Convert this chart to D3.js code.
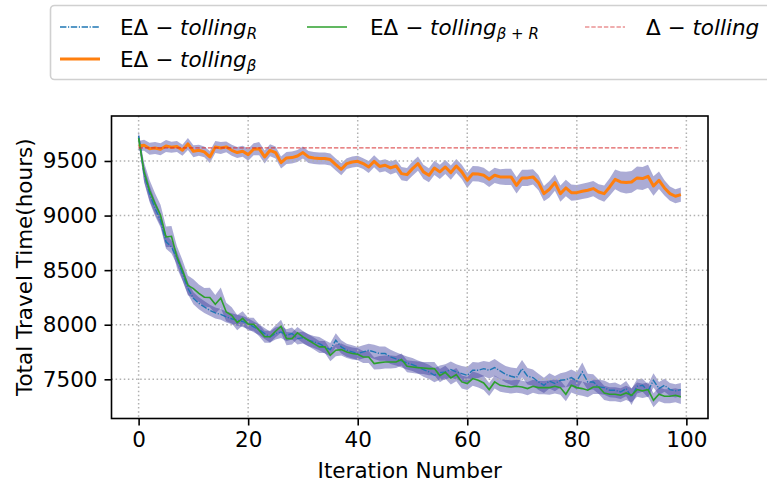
<!DOCTYPE html>
<html>
<head>
<meta charset="utf-8">
<script src="https://cdn.jsdelivr.net/npm/d3@7"></script>
<style>
  html, body { margin: 0; padding: 0; background: #fff; }
  svg { display: block; font-family: "DejaVu Sans", sans-serif; }
</style>
</head>
<body>
<svg id="chart" width="767" height="487"></svg>
<script>
// Total travel time per iteration for three tolling schemes (mean with spread band)
const iterations = d3.range(0, 100);

const tollingR = [
  9730, 9380, 9200, 9067, 8957, 8760, 8712, 8609, 8470, 8334,
  8242, 8196, 8163, 8132, 8108, 8095, 8071, 8055, 8041, 8030,
  8010, 7980, 7955, 7919, 7888, 7919, 7934, 7903, 7919, 7873,
  7882, 7858, 7842, 7827, 7797, 7772, 7858, 7797, 7766, 7751,
  7736, 7751, 7766, 7751, 7736, 7736, 7705, 7687, 7668, 7650,
  7635, 7613, 7589, 7568, 7537, 7561, 7568, 7589, 7568, 7552,
  7537, 7583, 7583, 7598, 7583, 7607, 7577, 7546, 7528, 7516,
  7598, 7528, 7516, 7476, 7445, 7485, 7461, 7491, 7497, 7516,
  7485, 7568, 7476, 7476, 7430, 7424, 7400, 7400, 7384, 7415,
  7339, 7436, 7445, 7394, 7491, 7415, 7445, 7406, 7394, 7406
];
const tollingRSpread = [
  50, 75, 75, 70, 65, 65, 60, 60, 60, 55,
  55, 55, 55, 50, 50, 50, 50, 50, 50, 50,
  50, 50, 50, 50, 50, 55, 55, 55, 55, 55,
  55, 55, 55, 60, 60, 60, 65, 60, 60, 60,
  60, 60, 60, 65, 65, 65, 65, 60, 60, 60,
  60, 60, 65, 65, 65, 65, 70, 75, 70, 70,
  75, 75, 70, 70, 75, 80, 75, 75, 80, 85,
  80, 75, 75, 75, 70, 70, 70, 65, 70, 75,
  80, 85, 75, 70, 65, 65, 65, 70, 65, 70,
  75, 65, 60, 60, 65, 60, 60, 60, 60, 60
];

const tollingBeta = [
  9638, 9644, 9613, 9619, 9607, 9638, 9626, 9632, 9598, 9656,
  9589, 9598, 9583, 9537, 9629, 9619, 9629, 9598, 9577, 9589,
  9558, 9607, 9613, 9537, 9598, 9577, 9485, 9528, 9531, 9546,
  9577, 9537, 9528, 9522, 9522, 9513, 9467, 9424, 9476, 9491,
  9497, 9476, 9445, 9497, 9450, 9461, 9436, 9454, 9384, 9375,
  9430, 9476, 9400, 9369, 9436, 9400, 9445, 9393, 9454, 9400,
  9323, 9384, 9381, 9369, 9332, 9369, 9354, 9354, 9354, 9277,
  9345, 9345, 9354, 9302, 9201, 9241, 9302, 9201, 9253, 9210,
  9210, 9222, 9232, 9247, 9216, 9201, 9262, 9332, 9308, 9302,
  9308, 9345, 9339, 9360, 9271, 9323, 9253, 9201, 9177, 9192
];
const tollingBetaSpread = [
  45, 50, 55, 55, 55, 55, 50, 50, 50, 55,
  55, 50, 50, 55, 55, 55, 50, 50, 50, 50,
  55, 55, 60, 60, 55, 55, 55, 55, 55, 55,
  55, 55, 55, 55, 55, 55, 55, 55, 50, 50,
  50, 50, 55, 55, 55, 55, 60, 60, 60, 60,
  65, 65, 65, 65, 65, 65, 65, 65, 65, 65,
  70, 70, 70, 70, 70, 70, 70, 75, 75, 75,
  75, 75, 70, 70, 70, 75, 75, 75, 75, 75,
  70, 70, 70, 70, 70, 75, 80, 90, 95, 100,
  100, 105, 105, 105, 90, 80, 70, 65, 65, 65
];

const tollingBetaR = [
  9710, 9400, 9230, 9110, 9003, 8804, 8810, 8620, 8499, 8361,
  8331, 8288, 8252, 8249, 8187, 8245, 8117, 8086, 8020, 8058,
  8004, 8004, 7949, 7890, 7890, 7940, 7986, 7873, 7873, 7925,
  7888, 7858, 7827, 7797, 7797, 7720, 7766, 7772, 7751, 7736,
  7729, 7705, 7705, 7644, 7653, 7659, 7659, 7659, 7681, 7619,
  7613, 7607, 7604, 7598, 7598, 7534, 7564, 7513, 7543, 7476,
  7461, 7507, 7491, 7467, 7406, 7476, 7445, 7436, 7430, 7436,
  7430, 7415, 7436, 7424, 7424, 7424, 7436, 7424, 7363, 7445,
  7424, 7415, 7400, 7430, 7430, 7375, 7363, 7363, 7354, 7375,
  7354, 7406, 7394, 7406, 7308, 7363, 7345, 7345, 7354, 7339
];
const tollingBetaRSpread = [
  50, 85, 95, 95, 95, 95, 95, 100, 95, 90,
  85, 80, 85, 90, 85, 95, 85, 75, 70, 65,
  60, 60, 55, 55, 55, 55, 60, 60, 55, 55,
  55, 55, 55, 55, 55, 55, 55, 55, 55, 55,
  55, 55, 55, 55, 60, 60, 60, 55, 55, 55,
  55, 55, 55, 60, 60, 60, 60, 60, 60, 60,
  60, 65, 65, 65, 60, 60, 60, 60, 60, 60,
  60, 60, 60, 60, 60, 65, 65, 65, 65, 65,
  65, 65, 65, 65, 65, 65, 65, 65, 65, 65,
  65, 65, 65, 65, 65, 65, 65, 65, 65, 65
];

// Untolled-learning baseline, constant over all iterations
const deltaTolling = 9620;

const xTicks = [0, 20, 40, 60, 80, 100];
const yTicks = [7500, 8000, 8500, 9000, 9500];
const xLabel = "Iteration Number";
const yLabel = "Total Travel Time(hours)";

// ---- layout ----
const FS = 21.5;
const plot = { left: 111.5, right: 708, top: 116, bottom: 418.5 };
const svg = d3.select("#chart");

const x = d3.scaleLinear().domain([-4.95, 103.95]).range([plot.left, plot.right]);
const y = d3.scaleLinear().domain([7141, 9912]).range([plot.bottom, plot.top]);

const bandFill = "rgb(55,55,155)";
const bandOpacity = 0.42;

const area = (vals, spread) => d3.area()
  .x(i => x(i))
  .y0(i => y(vals[i] - spread[i]))
  .y1(i => y(vals[i] + spread[i]))(iterations);
const line = vals => d3.line().x(i => x(i)).y(i => y(vals[i]))(iterations);

svg.append("defs").append("clipPath").attr("id", "plotClip")
  .append("rect")
  .attr("x", plot.left).attr("y", plot.top)
  .attr("width", plot.right - plot.left).attr("height", plot.bottom - plot.top);

const body = svg.append("g").attr("clip-path", "url(#plotClip)");

// spread bands
[[tollingR, tollingRSpread], [tollingBeta, tollingBetaSpread], [tollingBetaR, tollingBetaRSpread]]
  .forEach(([v, s]) => {
    body.append("path").attr("d", area(v, s))
      .attr("fill", bandFill).attr("fill-opacity", bandOpacity).attr("stroke", "none");
  });

// grid
const grid = body.append("g");
xTicks.forEach(t => grid.append("line")
  .attr("x1", x(t)).attr("x2", x(t)).attr("y1", plot.top).attr("y2", plot.bottom)
  .attr("stroke", "#b0b0b0").attr("stroke-width", 1.5).attr("stroke-dasharray", "1.5,2.6"));
yTicks.forEach(t => grid.append("line")
  .attr("x1", plot.left).attr("x2", plot.right).attr("y1", y(t)).attr("y2", y(t))
  .attr("stroke", "#b0b0b0").attr("stroke-width", 1.5).attr("stroke-dasharray", "1.5,2.6"));

// mean lines
body.append("path").attr("d", line(tollingR)).attr("fill", "none")
  .attr("stroke", "#1f77b4").attr("stroke-width", 1.4).attr("stroke-dasharray", "6.4,1.6,1.2,1.6");
body.append("path").attr("d", line(tollingBeta)).attr("fill", "none")
  .attr("stroke", "#ff7f0e").attr("stroke-width", 3).attr("stroke-linejoin", "round");
body.append("path").attr("d", line(tollingBetaR)).attr("fill", "none")
  .attr("stroke", "#2ca02c").attr("stroke-width", 1.6);
body.append("line")
  .attr("x1", x(0)).attr("x2", x(99)).attr("y1", y(deltaTolling)).attr("y2", y(deltaTolling))
  .attr("stroke", "#d62728").attr("stroke-opacity", 0.75).attr("stroke-width", 1.2)
  .attr("stroke-dasharray", "4.4,1.9");

// axes
const xAxis = svg.append("g").attr("transform", `translate(0,${plot.bottom})`)
  .call(d3.axisBottom(x).tickValues(xTicks).tickSize(7).tickPadding(6).tickFormat(d3.format("d")));
const yAxis = svg.append("g").attr("transform", `translate(${plot.left},0)`)
  .call(d3.axisLeft(y).tickValues(yTicks).tickSize(7).tickPadding(7).tickFormat(d3.format("d")));
[xAxis, yAxis].forEach(a => {
  a.select(".domain").remove();
  a.selectAll(".tick line").attr("stroke", "#000").attr("stroke-width", 1.6);
  a.selectAll(".tick text").attr("fill", "#000").style("font-size", FS + "px")
    .style("font-family", "DejaVu Sans, sans-serif");
});

// frame
svg.append("rect")
  .attr("x", plot.left).attr("y", plot.top)
  .attr("width", plot.right - plot.left).attr("height", plot.bottom - plot.top)
  .attr("fill", "none").attr("stroke", "#000").attr("stroke-width", 1.6);

// axis titles
svg.append("text").attr("x", (plot.left + plot.right) / 2).attr("y", 478)
  .attr("text-anchor", "middle").style("font-size", FS + "px").text(xLabel);
svg.append("text")
  .attr("transform", `translate(32,${(plot.top + plot.bottom) / 2}) rotate(-90)`)
  .attr("text-anchor", "middle").style("font-size", FS + "px").text(yLabel);

// legend
const legend = svg.append("g");
legend.append("rect")
  .attr("x", 50.5).attr("y", 5.5).attr("width", 760).attr("height", 74).attr("rx", 4)
  .attr("fill", "#fff").attr("fill-opacity", 0.8).attr("stroke", "#d0d0d0").attr("stroke-width", 1.6);

const legendItems = [
  { hx: 60, ty: 35, tx: 120, stroke: "#1f77b4", width: 1.4, dash: "6.4,1.6,1.2,1.6", opacity: 1,
    lead: "EΔ − ", ital: "tolling", sub: [["R", true]] },
  { hx: 60, ty: 67, tx: 120, stroke: "#ff7f0e", width: 3, dash: null, opacity: 1,
    lead: "EΔ − ", ital: "tolling", sub: [["β", true]] },
  { hx: 307, ty: 35, tx: 370, stroke: "#2ca02c", width: 1.6, dash: null, opacity: 1,
    lead: "EΔ − ", ital: "tolling", sub: [["β", true], [" + ", false], ["R", true]] },
  { hx: 585, ty: 35, tx: 646, stroke: "#d62728", width: 1.2, dash: "4.4,1.9", opacity: 0.75,
    lead: "Δ − ", ital: "tolling", sub: [] }
];
legendItems.forEach(it => {
  legend.append("line")
    .attr("x1", it.hx).attr("x2", it.hx + 40).attr("y1", it.ty - 8).attr("y2", it.ty - 8)
    .attr("stroke", it.stroke).attr("stroke-width", it.width).attr("stroke-opacity", it.opacity)
    .attr("stroke-dasharray", it.dash);
  const t = legend.append("text").attr("x", it.tx).attr("y", it.ty).style("font-size", FS + "px");
  t.append("tspan").text(it.lead);
  t.append("tspan").style("font-style", "italic").text(it.ital);
  it.sub.forEach((s, k) => {
    const sp = t.append("tspan").style("font-size", "15px").text(s[0])
      .style("font-style", s[1] ? "italic" : "normal");
    if (k === 0) sp.attr("dy", 4);
  });
});
</script>
</body>
</html>
